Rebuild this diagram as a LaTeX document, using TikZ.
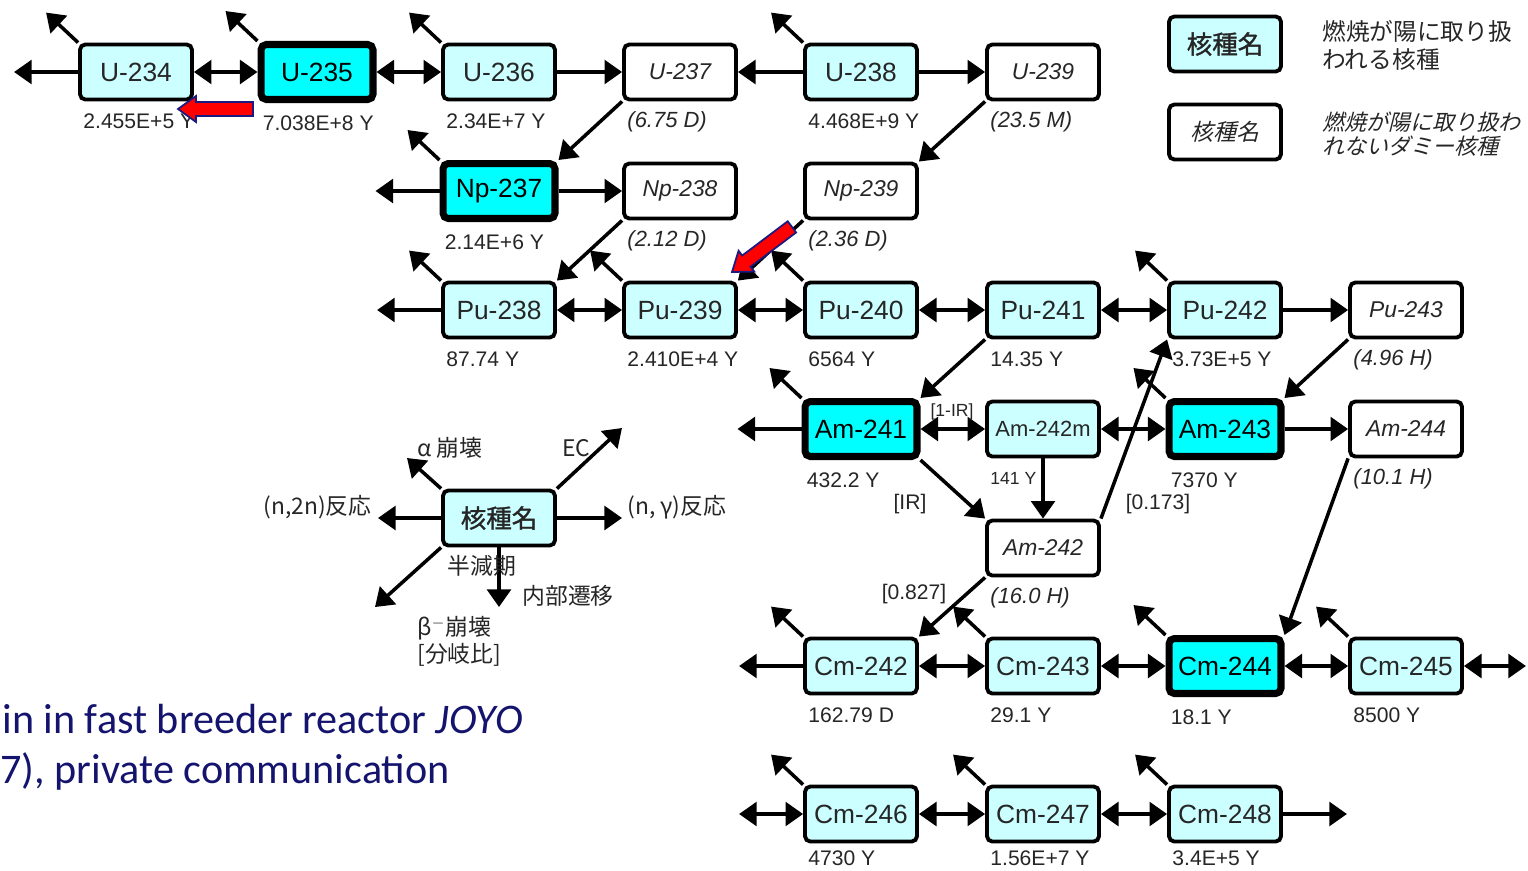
\documentclass[tikz,border=0pt]{standalone}
\usepackage{fontspec}
\setmainfont{Liberation Sans}
\newfontfamily\jpfont{Noto Sans CJK JP}
\newfontfamily\jpslant[FakeSlant=0.25]{Noto Sans CJK JP}
\newfontfamily\jpbold[FakeBold=1.2]{Noto Sans CJK JP}
\newfontfamily\citefont{Carlito}
\usetikzlibrary{arrows.meta,calc}
\definecolor{nuccyan}{HTML}{CCFFFF}
\definecolor{fisscyan}{HTML}{00FFFF}
\definecolor{citeblue}{HTML}{14146E}
\definecolor{arrownavy}{HTML}{1A1A80}

\begin{document}
\begin{tikzpicture}[
    x=0.02cm, y=-0.02cm,
    nuc/.style={rectangle, rounded corners=3pt, draw, line width=2.2pt, fill=nuccyan,
                minimum width=2.24cm, minimum height=1.1cm, inner sep=0pt,
                text=black!85, font=\fontsize{15}{15}\selectfont},
    fiss/.style={nuc, fill=fisscyan, line width=4pt, text=black},
    dummy/.style={nuc, fill=white, font=\fontsize{13}{13}\selectfont\itshape},
    hl/.style={anchor=west, xshift=0.1cm, yshift=-0.4cm, inner sep=0pt,
               text=black!85, font=\fontsize{12}{12}\selectfont},
    hlb/.style={hl, yshift=3pt},
    hli/.style={hl, font=\fontsize{12.5}{12.5}\selectfont\itshape},
    ratio/.style={inner sep=0pt, text=black!85, font=\fontsize{12}{12}\selectfont},
    jp/.style={inner sep=0pt, text=black!85, font=\jpfont\fontsize{13}{13}\selectfont},
    cite/.style={inner sep=0pt, text=citeblue, font=\citefont\fontsize{24}{24}\selectfont},
    arr/.style={-{Triangle[length=10pt,width=13.5pt]}, line width=2pt},
    darr/.style={{Triangle[length=10pt,width=13.5pt]}-{Triangle[length=10pt,width=13.5pt]}, line width=2pt},
    redarrow/.pic={\filldraw[fill=red, draw=arrownavy, line width=1pt]
      (0,0) -- (18,-13) -- (18,-7) -- (75,-7) -- (75,7) -- (18,7) -- (18,13) -- cycle;}
  ]
  \useasboundingbox (0,0) rectangle (1528,870);

  % uranium / neptunium
  \node[nuc, label={[hl]south west:2.455E+5 Y}] (u234) at (136,72) {U-234};
  \node[fiss, label={[hl]south west:7.038E+8 Y}] (u235) at (317,72) {U-235};
  \node[nuc, label={[hl]south west:2.34E+7 Y}] (u236) at (499,72) {U-236};
  \node[dummy, label={[hli]south west:(6.75 D)}] (u237) at (680,72) {U-237};
  \node[nuc, label={[hl]south west:4.468E+9 Y}] (u238) at (861,72) {U-238};
  \node[dummy, label={[hli]south west:(23.5 M)}] (u239) at (1043,72) {U-239};
  \node[fiss, label={[hl]south west:2.14E+6 Y}] (np237) at (499,191) {Np-237};
  \node[dummy, label={[hli]south west:(2.12 D)}] (np238) at (680,191) {Np-238};
  \node[dummy, label={[hli]south west:(2.36 D)}] (np239) at (861,191) {Np-239};

  % plutonium
  \node[nuc, label={[hl]south west:87.74 Y}] (pu238) at (499,310) {Pu-238};
  \node[nuc, label={[hl]south west:2.410E+4 Y}] (pu239) at (680,310) {Pu-239};
  \node[nuc, label={[hl]south west:6564 Y}] (pu240) at (861,310) {Pu-240};
  \node[nuc, label={[hl]south west:14.35 Y}] (pu241) at (1043,310) {Pu-241};
  \node[nuc, label={[hl]south west:3.73E+5 Y}] (pu242) at (1225,310) {Pu-242};
  \node[dummy, label={[hli]south west:(4.96 H)}] (pu243) at (1406,310) {Pu-243};

  % americium
  \node[fiss, label={[hl]south west:432.2 Y}] (am241) at (861,429) {Am-241};
  \node[nuc, font=\fontsize{12.5}{12.5}\selectfont,
        label={[hl, font=\fontsize{10}{10}\selectfont]south west:141 Y}] (am242m) at (1043,429) {Am-242m};
  \node[fiss, label={[hl]south west:7370 Y}] (am243) at (1225,429) {Am-243};
  \node[dummy, label={[hli]south west:(10.1 H)}] (am244) at (1406,429) {Am-244};
  \node[dummy, label={[hli]south west:(16.0 H)}] (am242) at (1043,548) {Am-242};

  % curium
  \node[nuc, label={[hl]south west:162.79 D}] (cm242) at (861,666) {Cm-242};
  \node[nuc, label={[hl]south west:29.1 Y}] (cm243) at (1043,666) {Cm-243};
  \node[fiss, label={[hl]south west:18.1 Y}] (cm244) at (1225,666) {Cm-244};
  \node[nuc, label={[hl]south west:8500 Y}] (cm245) at (1406,666) {Cm-245};
  \node[nuc, label={[hlb]south west:4730 Y}] (cm246) at (861,814) {Cm-246};
  \node[nuc, label={[hlb]south west:1.56E+7 Y}] (cm247) at (1043,814) {Cm-247};
  \node[nuc, label={[hlb]south west:3.4E+5 Y}] (cm248) at (1225,814) {Cm-248};

  % legend
  \node[nuc, font=\jpbold\fontsize{14.5}{14.5}\selectfont] (lgexp) at (1225,44) {核種名};
  \node[dummy, font=\jpslant\fontsize{13}{13}\selectfont] (lgdum) at (1225,132) {核種名};
  \node[jp, anchor=west, align=left, font=\jpfont\fontsize{13.5}{16}\selectfont] (lgexptxt) at (1322,45)
    {燃焼が陽に取り扱\\われる核種};
  \node[jp, anchor=west, align=left, font=\jpslant\fontsize{12.5}{13.7}\selectfont] (lgdumtxt) at (1322,134)
    {燃焼が陽に取り扱わ\\れないダミー核種};

  \node[nuc, font=\jpbold\fontsize{14.5}{14.5}\selectfont] (key) at (499,518) {核種名};
  \coordinate (key-w) at (378,518);
  \coordinate (key-e) at (622,518);
  \coordinate (key-a) at (407,458);
  \coordinate (key-ec) at (622,428);
  \coordinate (key-b) at (375,607);
  \coordinate (key-it) at (499,607);
  \draw[arr] (key.west) -- (key-w);
  \draw[arr] (key.east) -- (key-e);
  \draw[arr] (key.north west) -- (key-a);
  \draw[arr] (key.north east) -- (key-ec);
  \draw[arr] (key.south west) -- (key-b);
  \draw[arr] (key.south) -- (key-it);
  \node[jp, anchor=east] (lg2n) at (372,507) {(n,2n)反応};
  \node[jp, anchor=west] (lgng) at (627,507) {(n, γ)反応};
  \node[jp, anchor=west] (lgalpha) at (417,448) {\textit{α} 崩壊};
  \node[jp, anchor=west] (lgec) at (562,448) {EC};
  \node[jp, anchor=west] (lghalf) at (447,566) {半減期};
  \node[jp, anchor=west] (lgit) at (522,596) {内部遷移};
  \node[jp, anchor=west] (lgbeta) at (417,628) {β$^{-}$崩壊};
  \node[jp, anchor=west] (lgbr) at (417,655) {[分岐比]};

  % alpha decay
  \foreach \n in {u234,u235,u236,u238,np237,pu238,pu239,pu240,pu242,am241,am243,
                  cm242,cm243,cm244,cm245,cm246,cm247,cm248}{
    \coordinate (\n-a) at ($(\n.north west)+(-32,-30)$);
    \draw[arr] (\n.north west) -- (\n-a);
  }
  % (n,2n) out of the chart
  \foreach \n in {u234,np237,pu238,am241,cm242}{
    \coordinate (\n-w) at ($(\n.west)+(-64,0)$);
    \draw[arr] (\n.west) -- (\n-w);
  }
  \coordinate (cm246-w) at ($(cm246.west)+(-64,0)$);
  \coordinate (cm245-e) at ($(cm245.east)+(62,0)$);
  \coordinate (cm248-e) at ($(cm248.east)+(64,0)$);
  \draw[darr] (cm246.west) -- (cm246-w);
  \draw[darr] (cm245.east) -- (cm245-e);
  \draw[arr] (cm248.east) -- (cm248-e);

  % (n,g) and (n,2n)
  \foreach \a/\b in {u234/u235,u235/u236,pu238/pu239,pu239/pu240,pu240/pu241,pu241/pu242,
                     am241/am242m,am242m/am243,cm242/cm243,cm243/cm244,cm244/cm245,
                     cm246/cm247,cm247/cm248}
    \draw[darr] (\a) -- (\b);
  \foreach \a/\b in {u236/u237,u238/u237,u238/u239,np237/np238,pu242/pu243,am243/am244}
    \draw[arr] (\a) -- (\b);

  % beta decay
  \foreach \a/\b in {u237/np237,u239/np239,np238/pu238,np239/pu239,pu241/am241,
                     pu243/am243,am244/cm244,am242/cm242}
    \draw[arr] (\a.south west) -- (\b.north east);
  \draw[arr] (am241.south east) -- (am242.north west);
  \draw[arr] (am242.north east) -- (pu242.south west);
  \draw[arr] (am242m) -- (am242);

  \node[ratio, font=\fontsize{10}{10}\selectfont] (br1) at (952,412) {[1-IR]};
  \node[ratio] (br2) at (910,504) {[IR]};
  \node[ratio] (br3) at (1158,504) {[0.173]};
  \node[ratio] (br4) at (914,594) {[0.827]};

  % highlights
  \pic at (178,109) {redarrow};
  \pic[rotate=37] at (732,272) {redarrow};

  \node[cite, anchor=base west] (ref1) at (2,733) {in in fast breeder reactor \textit{JOYO}};
  \node[cite, anchor=base west] (ref2) at (0,783) {7), private communication};
\end{tikzpicture}
\end{document}
